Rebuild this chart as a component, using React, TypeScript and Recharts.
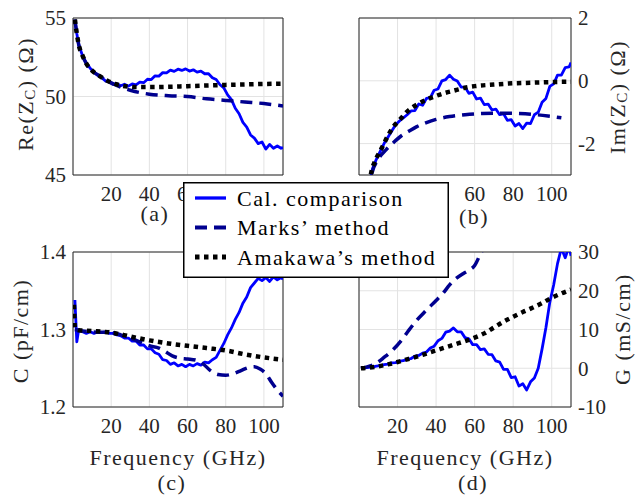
import React from 'react';
import { LineChart, Line, XAxis, YAxis, CartesianGrid, ReferenceArea, Legend } from 'recharts';

const FONT = 'Liberation Serif, DejaVu Serif, serif';
const TEXT = '#262626';

const FREQ_TICKS = [20, 40, 60, 80, 100];
const FREQ_DOMAIN: [number, number] = [0, 110];

const LEGEND_NAMES = ['Cal. comparison', 'Marks\u2019 method', 'Amakawa\u2019s method'];

// Cal. comparison (noisy measured curves)
const F_CAL = [1, 2, 3, 5, 7, 9, 11, 13, 15, 17, 19, 21, 23, 25, 27, 29, 31, 33, 35, 37, 39, 41, 43, 45, 47, 49, 51, 53, 55, 57, 59, 61, 63, 65, 67, 69, 71, 73, 75, 77, 79, 81, 83, 85, 87, 89, 91, 93, 95, 97, 99, 101, 103, 105, 107, 109, 110];
const RE_CAL = [54.9, 54.0, 53.3, 52.6, 52.1, 51.8, 51.55, 51.35, 51.2, 51.0, 50.92, 50.78, 50.82, 50.68, 50.78, 50.66, 50.8, 50.74, 50.92, 50.88, 51.1, 51.08, 51.32, 51.3, 51.52, 51.5, 51.68, 51.6, 51.74, 51.66, 51.76, 51.62, 51.7, 51.55, 51.62, 51.45, 51.45, 51.2, 51.08, 50.75, 50.55, 50.1, 49.8, 49.25, 48.9, 48.35, 48.05, 47.55, 47.35, 47.0, 47.1, 46.65, 46.95, 46.7, 46.85, 46.7, 46.75];
const IM_CAL = [-9, -6.5, -5, -3.4, -2.8, -2.5, -2.25, -2.0, -1.8, -1.6, -1.4, -1.28, -1.18, -1.08, -0.96, -0.95, -0.74, -0.78, -0.56, -0.54, -0.3, -0.26, 0.0, 0.04, 0.18, 0.05, -0.01, -0.2, -0.2, -0.4, -0.36, -0.58, -0.55, -0.76, -0.74, -0.93, -0.9, -1.08, -1.05, -1.26, -1.24, -1.44, -1.36, -1.52, -1.35, -1.36, -1.08, -1.0, -0.68, -0.56, -0.18, -0.1, 0.18, 0.18, 0.42, 0.44, 0.58];
const C_CAL = [1.338, 1.284, 1.3, 1.297, 1.295, 1.297, 1.295, 1.297, 1.296, 1.297, 1.295, 1.295, 1.293, 1.292, 1.289, 1.289, 1.285, 1.285, 1.28, 1.28, 1.275, 1.275, 1.27, 1.268, 1.261, 1.26, 1.255, 1.257, 1.253, 1.255, 1.252, 1.255, 1.253, 1.256, 1.254, 1.258, 1.257, 1.261, 1.264, 1.273, 1.282, 1.293, 1.302, 1.313, 1.322, 1.334, 1.342, 1.354, 1.36, 1.366, 1.363, 1.367, 1.362, 1.368, 1.364, 1.367, 1.365];
const G_CAL = [0, 0.05, 0.1, 0.25, 0.3, 0.55, 0.65, 0.95, 1.05, 1.4, 1.45, 1.85, 1.95, 2.4, 2.5, 3.1, 3.3, 3.9, 4.2, 5.2, 5.7, 7.1, 7.7, 9.3, 9.6, 10.4, 9.4, 9.4, 7.9, 7.6, 6.1, 6.1, 4.8, 5.0, 3.6, 3.5, 1.9, 1.6, -0.3, -0.3, -2.4, -2.2, -4.6, -4.0, -5.6, -3.5, -2.5, 0.0, 5.0, 10.5, 17.0, 21.5, 27.0, 31.0, 28.5, 31.5, 29.0];

// Marks' method
const F_RE_MARKS = [1, 2, 3, 5, 7, 10, 14, 18, 22, 26, 30, 35, 40, 50, 60, 70, 80, 90, 100, 110];
const RE_MARKS = [54.9, 54.0, 53.3, 52.6, 52.1, 51.65, 51.3, 51.0, 50.75, 50.55, 50.4, 50.25, 50.15, 50.05, 50.0, 49.85, 49.75, 49.65, 49.55, 49.4];
const F_IM_MARKS = [1, 3, 5, 6.5, 10, 14, 17.5, 22, 26, 30, 35, 40, 47, 55, 64, 72, 81, 90, 98, 105];
const IM_MARKS = [-9, -5.8, -3.8, -3.0, -2.5, -2.2, -1.99, -1.75, -1.6, -1.46, -1.33, -1.23, -1.14, -1.08, -1.04, -1.03, -1.04, -1.07, -1.12, -1.18];
const F_C_MARKS = [1, 5, 10, 20, 25, 30, 35, 40, 45, 48, 52, 56, 60, 65, 68, 72, 76, 80, 84, 88, 92, 95, 98, 101, 104, 107, 110];
const C_MARKS = [1.3, 1.298, 1.297, 1.296, 1.293, 1.289, 1.284, 1.279, 1.276, 1.272, 1.266, 1.263, 1.262, 1.26, 1.256, 1.247, 1.242, 1.241, 1.243, 1.247, 1.251, 1.252, 1.249, 1.243, 1.232, 1.222, 1.214];
const F_G_MARKS = [1, 5, 9, 13, 17.5, 22, 26, 30, 35, 40, 43.5, 47, 50, 54, 57, 60, 63, 65, 70];
const G_MARKS = [0, 0.5, 1.3, 2.8, 4.7, 7.2, 9.9, 12.4, 15, 17.5, 19.3, 21.5, 23, 24.4, 25.3, 26.5, 29.5, 31.5, 36];

// Amakawa's method
const F_RE_AMA = [1, 2, 3, 5, 7, 10, 14, 18, 22, 26, 30, 35, 40, 50, 60, 70, 80, 90, 100, 110];
const RE_AMA = [54.9, 54.0, 53.3, 52.6, 52.1, 51.65, 51.3, 51.0, 50.8, 50.68, 50.62, 50.6, 50.6, 50.62, 50.66, 50.7, 50.74, 50.77, 50.8, 50.82];
const F_IM_AMA = [1, 3, 5, 6, 8, 10, 12, 15, 18, 21, 25, 30, 35, 40, 45, 50, 55, 60, 70, 80, 90, 100, 110];
const IM_AMA = [-9, -5.5, -3.6, -3.05, -2.6, -2.35, -2.12, -1.75, -1.45, -1.25, -0.98, -0.76, -0.6, -0.48, -0.38, -0.3, -0.22, -0.17, -0.12, -0.08, -0.06, -0.04, -0.03];
const F_C_AMA = [0.5, 1, 3, 10, 20, 30, 40, 50, 60, 70, 80, 90, 100, 110];
const C_AMA = [1.332, 1.302, 1.299, 1.298, 1.296, 1.291, 1.286, 1.282, 1.279, 1.276, 1.273, 1.268, 1.264, 1.261];
const F_G_AMA = [1, 5, 10, 15, 20, 25, 30, 35, 40, 45, 50, 55, 60, 65, 70, 75, 80, 85, 90, 95, 100, 105, 110];
const G_AMA = [0, 0.15, 0.5, 1.0, 1.6, 2.3, 3.0, 3.8, 4.6, 5.4, 6.2, 7.0, 7.9, 9.0, 10.5, 12.0, 13.3, 14.5, 15.6, 16.8, 18.2, 19.3, 20.3];

const RE_TICKS = [45, 50, 55];
const IM_TICKS = [-2, 0, 2];
const C_TICKS = [1.2, 1.3, 1.4];
const G_TICKS = [-10, 0, 10, 20, 30];

const STYLES = [
  { stroke: '#0000ff', strokeWidth: 2.8, strokeDasharray: undefined as string | undefined, type: 'linear' as const },
  { stroke: '#00008f', strokeWidth: 3.5, strokeDasharray: '12 7', type: 'monotone' as const },
  { stroke: '#000000', strokeWidth: 4.5, strokeDasharray: '4.5 4.5', type: 'monotone' as const },
];

const toPoints = (f: number[], v: number[]) => f.map((x, i) => ({ f: x, v: v[i] }));

type TextItem = { x: number; y: number; parts: (string | { sub: string })[]; rotate?: boolean };

const Titles = ({ items }: { items: TextItem[] }) => (
  <g>
    {items.map((it, k) => (
      <text
        key={k}
        x={it.x}
        y={it.y}
        textAnchor="middle"
        dominantBaseline="central"
        transform={it.rotate ? `rotate(-90 ${it.x} ${it.y})` : undefined}
        style={{ fontFamily: FONT, fontSize: 22, letterSpacing: 1.5 }}
        fill={TEXT}
      >
        {it.parts.map((p, j) => {
          if (typeof p === 'string') {
            const prevSub = j > 0 && typeof it.parts[j - 1] !== 'string';
            return (
              <tspan key={j} dy={prevSub ? -5 : undefined}>
                {p}
              </tspan>
            );
          }
          return (
            <tspan key={j} style={{ fontSize: 15 }} dy={5}>
              {p.sub}
            </tspan>
          );
        })}
      </text>
    ))}
  </g>
);

const LegendBox = () => (
  <svg width={266} height={96} style={{ display: 'block' }}>
    <rect x={0.75} y={0.75} width={264.5} height={94.5} fill="#ffffff" stroke="#000000" strokeWidth={1.5} />
    {LEGEND_NAMES.map((name, i) => {
      const cy = 16 + i * 29.5;
      const s = STYLES[i];
      return (
        <g key={name}>
          <line x1={12} x2={43} y1={cy} y2={cy} stroke={s.stroke} strokeWidth={s.strokeWidth + 0.5} strokeDasharray={s.strokeDasharray} />
          <text x={54} y={cy} dominantBaseline="central" style={{ fontFamily: FONT, fontSize: 22, letterSpacing: 1.5 }} fill="#000">
            {name}
          </text>
        </g>
      );
    })}
  </svg>
);

type PanelProps = {
  margin: { top: number; right: number; bottom: number; left: number };
  yDomain: [number, number];
  yTicks: number[];
  side: 'left' | 'right';
  series: { f: number[]; v: number[] }[];
  yTitle: TextItem[];
  xTitle: TextItem[];
  legend?: boolean;
};

const tickStyle = { fontSize: 21, fontFamily: FONT, fill: TEXT, style: { fontFamily: FONT } };

function Panel({ margin, yDomain, yTicks, side, series, yTitle, xTitle, legend }: PanelProps) {
  return (
    <div style={{ position: 'absolute', left: 0, top: 0, fontFamily: FONT }}>
      <LineChart width={636} height={497} margin={margin} style={{ fontFamily: FONT }}>
        <CartesianGrid stroke="#e3e3e3" strokeWidth={1} />
        <XAxis
          type="number"
          dataKey="f"
          domain={FREQ_DOMAIN}
          ticks={FREQ_TICKS}
          interval={0}
          allowDataOverflow
          axisLine={false}
          tickLine={false}
          tick={tickStyle}
          tickMargin={5}
          height={30}
          label={<Titles items={xTitle} />}
        />
        <YAxis
          type="number"
          domain={yDomain}
          ticks={yTicks}
          interval={0}
          allowDataOverflow
          orientation={side}
          axisLine={false}
          tickLine={false}
          tick={tickStyle}
          tickMargin={1}
          width={60}
          label={<Titles items={yTitle} />}
        />
        <ReferenceArea
          x1={FREQ_DOMAIN[0]}
          x2={FREQ_DOMAIN[1]}
          y1={yDomain[0]}
          y2={yDomain[1]}
          fill="none"
          fillOpacity={0}
          stroke="#262626"
          strokeWidth={1}
        />
        {series.map((s, i) => (
          <Line
            key={i}
            data={toPoints(s.f, s.v)}
            dataKey="v"
            name={LEGEND_NAMES[i]}
            type={STYLES[i].type}
            stroke={STYLES[i].stroke}
            strokeWidth={STYLES[i].strokeWidth}
            strokeDasharray={STYLES[i].strokeDasharray}
            strokeLinecap="butt"
            strokeLinejoin="round"
            dot={false}
            activeDot={false}
            isAnimationActive={false}
          />
        ))}
        {legend && (
          <Legend
            layout="horizontal"
            verticalAlign="middle"
            align="center"
            content={() => <LegendBox />}
            wrapperStyle={{ position: 'absolute', left: 183, top: 182, width: 266, height: 96, zIndex: 10 }}
          />
        )}
      </LineChart>
    </div>
  );
}

export default function App() {
  return (
    <div style={{ position: 'absolute', left: 0, top: 0, width: 636, height: 497, background: '#fff', fontFamily: FONT }}>
      <Panel
        margin={{ top: 18, right: 353, bottom: 292, left: 13 }}
        yDomain={[45, 55]}
        yTicks={RE_TICKS}
        side="left"
        series={[
          { f: F_CAL, v: RE_CAL },
          { f: F_RE_MARKS, v: RE_MARKS },
          { f: F_RE_AMA, v: RE_AMA },
        ]}
        yTitle={[{ x: 25, y: 94, rotate: true, parts: ['Re(Z', { sub: 'C' }, ') (\u03a9)'] }]}
        xTitle={[{ x: 155, y: 213, parts: ['(a)'] }]}
      />
      <Panel
        margin={{ top: 18, right: 5, bottom: 292, left: 359 }}
        yDomain={[-3, 2]}
        yTicks={IM_TICKS}
        side="right"
        series={[
          { f: F_CAL, v: IM_CAL },
          { f: F_IM_MARKS, v: IM_MARKS },
          { f: F_IM_AMA, v: IM_AMA },
        ]}
        yTitle={[{ x: 617, y: 97, rotate: true, parts: ['Im(Z', { sub: 'C' }, ') (\u03a9)'] }]}
        xTitle={[{ x: 474, y: 216, parts: ['(b)'] }]}
      />
      <Panel
        margin={{ top: 252, right: 353, bottom: 60, left: 13 }}
        yDomain={[1.2, 1.4]}
        yTicks={C_TICKS}
        side="left"
        series={[
          { f: F_CAL, v: C_CAL },
          { f: F_C_MARKS, v: C_MARKS },
          { f: F_C_AMA, v: C_AMA },
        ]}
        yTitle={[{ x: 20, y: 331, rotate: true, parts: ['C (pF/cm)'] }]}
        xTitle={[
          { x: 178, y: 457, parts: ['Frequency (GHz)'] },
          { x: 172, y: 482, parts: ['(c)'] },
        ]}
      />
      <Panel
        margin={{ top: 252, right: 5, bottom: 60, left: 359 }}
        yDomain={[-10, 30]}
        yTicks={G_TICKS}
        side="right"
        series={[
          { f: F_CAL, v: G_CAL },
          { f: F_G_MARKS, v: G_MARKS },
          { f: F_G_AMA, v: G_AMA },
        ]}
        yTitle={[{ x: 622, y: 329, rotate: true, parts: ['G (mS/cm)'] }]}
        xTitle={[
          { x: 465, y: 457, parts: ['Frequency (GHz)'] },
          { x: 473, y: 482, parts: ['(d)'] },
        ]}
        legend
      />
    </div>
  );
}
